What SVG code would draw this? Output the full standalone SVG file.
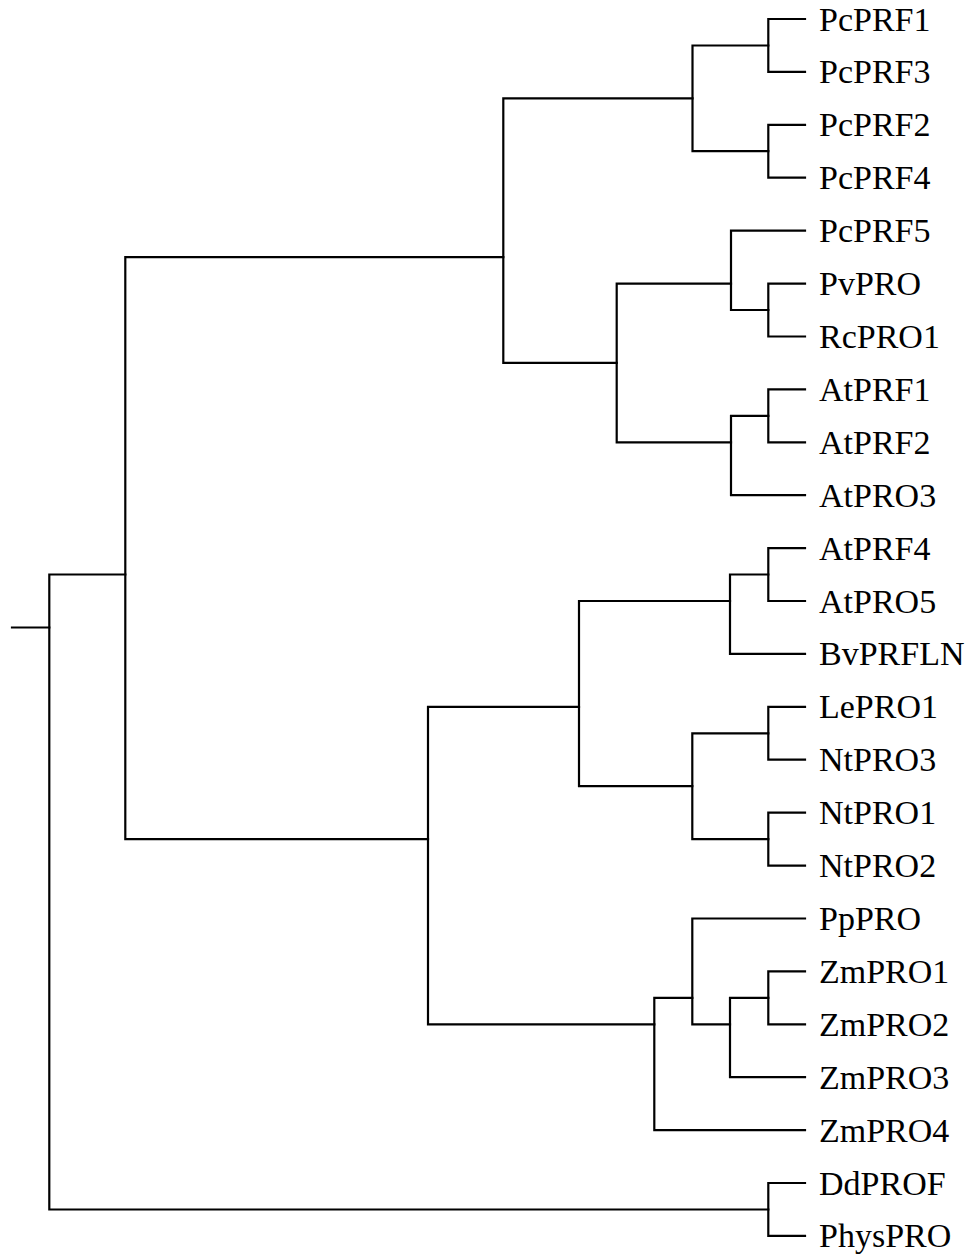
<svg xmlns="http://www.w3.org/2000/svg" width="971" height="1254" viewBox="0 0 971 1254">
<style>
.e{fill:none;stroke:#000;stroke-width:2.2;stroke-linecap:square;stroke-linejoin:miter}
.l{font-family:"Liberation Serif","Times New Roman",serif;font-size:34px;fill:#000}
</style>
<rect width="971" height="1254" fill="#fff"/>
<g id="connectors">
<path class="e" d="M 12 627.5 H 49.3"/>
<path class="e" d="M 125.3 574.5 H 49.3 V 1209.5 H 768.3"/>
<path class="e" d="M 503.3 257.1 H 125.3 V 839.1 H 428"/>
<path class="e" d="M 692.5 98.4 H 503.3 V 362.9 H 616.7"/>
<path class="e" d="M 768.3 45.5 H 692.5 V 151.2 H 768.3"/>
<path class="e" d="M 805 19 H 768.3 V 71.9 H 805"/>
<path class="e" d="M 805 124.8 H 768.3 V 177.7 H 805"/>
<path class="e" d="M 731 283.6 H 616.7 V 442.3 H 731"/>
<path class="e" d="M 805 230.6 H 731 V 310 H 768.3"/>
<path class="e" d="M 805 283.6 H 768.3 V 336.5 H 805"/>
<path class="e" d="M 768.3 415.8 H 731 V 495.2 H 805"/>
<path class="e" d="M 805 389.4 H 768.3 V 442.3 H 805"/>
<path class="e" d="M 579 706.8 H 428 V 1024.3 H 654.3"/>
<path class="e" d="M 730 601 H 579 V 786.2 H 692.3"/>
<path class="e" d="M 768.3 574.5 H 730 V 653.9 H 805"/>
<path class="e" d="M 805 548.1 H 768.3 V 601 H 805"/>
<path class="e" d="M 768.3 733.3 H 692.3 V 839.1 H 768.3"/>
<path class="e" d="M 805 706.8 H 768.3 V 759.7 H 805"/>
<path class="e" d="M 805 812.7 H 768.3 V 865.6 H 805"/>
<path class="e" d="M 692.3 997.8 H 654.3 V 1130.1 H 805"/>
<path class="e" d="M 805 918.5 H 692.3 V 1024.3 H 730"/>
<path class="e" d="M 768.3 997.8 H 730 V 1077.2 H 805"/>
<path class="e" d="M 805 971.4 H 768.3 V 1024.3 H 805"/>
<path class="e" d="M 805 1183 H 768.3 V 1235.9 H 805"/>
</g>
<g id="leaf-PcPRF1"><text class="l" x="819" y="30.5">PcPRF1</text></g>
<g id="leaf-PcPRF3"><text class="l" x="819" y="83.4">PcPRF3</text></g>
<g id="leaf-PcPRF2"><text class="l" x="819" y="136.3">PcPRF2</text></g>
<g id="leaf-PcPRF4"><text class="l" x="819" y="189.2">PcPRF4</text></g>
<g id="leaf-PcPRF5"><text class="l" x="819" y="242.1">PcPRF5</text></g>
<g id="leaf-PvPRO"><text class="l" x="819" y="295.1">PvPRO</text></g>
<g id="leaf-RcPRO1"><text class="l" x="819" y="348">RcPRO1</text></g>
<g id="leaf-AtPRF1"><text class="l" x="819" y="400.9">AtPRF1</text></g>
<g id="leaf-AtPRF2"><text class="l" x="819" y="453.8">AtPRF2</text></g>
<g id="leaf-AtPRO3"><text class="l" x="819" y="506.7">AtPRO3</text></g>
<g id="leaf-AtPRF4"><text class="l" x="819" y="559.6">AtPRF4</text></g>
<g id="leaf-AtPRO5"><text class="l" x="819" y="612.5">AtPRO5</text></g>
<g id="leaf-BvPRFLN"><text class="l" x="819" y="665.4">BvPRFLN</text></g>
<g id="leaf-LePRO1"><text class="l" x="819" y="718.3">LePRO1</text></g>
<g id="leaf-NtPRO3"><text class="l" x="819" y="771.2">NtPRO3</text></g>
<g id="leaf-NtPRO1"><text class="l" x="819" y="824.2">NtPRO1</text></g>
<g id="leaf-NtPRO2"><text class="l" x="819" y="877.1">NtPRO2</text></g>
<g id="leaf-PpPRO"><text class="l" x="819" y="930">PpPRO</text></g>
<g id="leaf-ZmPRO1"><text class="l" x="819" y="982.9">ZmPRO1</text></g>
<g id="leaf-ZmPRO2"><text class="l" x="819" y="1035.8">ZmPRO2</text></g>
<g id="leaf-ZmPRO3"><text class="l" x="819" y="1088.7">ZmPRO3</text></g>
<g id="leaf-ZmPRO4"><text class="l" x="819" y="1141.6">ZmPRO4</text></g>
<g id="leaf-DdPROF"><text class="l" x="819" y="1194.5">DdPROF</text></g>
<g id="leaf-PhysPRO"><text class="l" x="819" y="1247.4">PhysPRO</text></g>
</svg>
